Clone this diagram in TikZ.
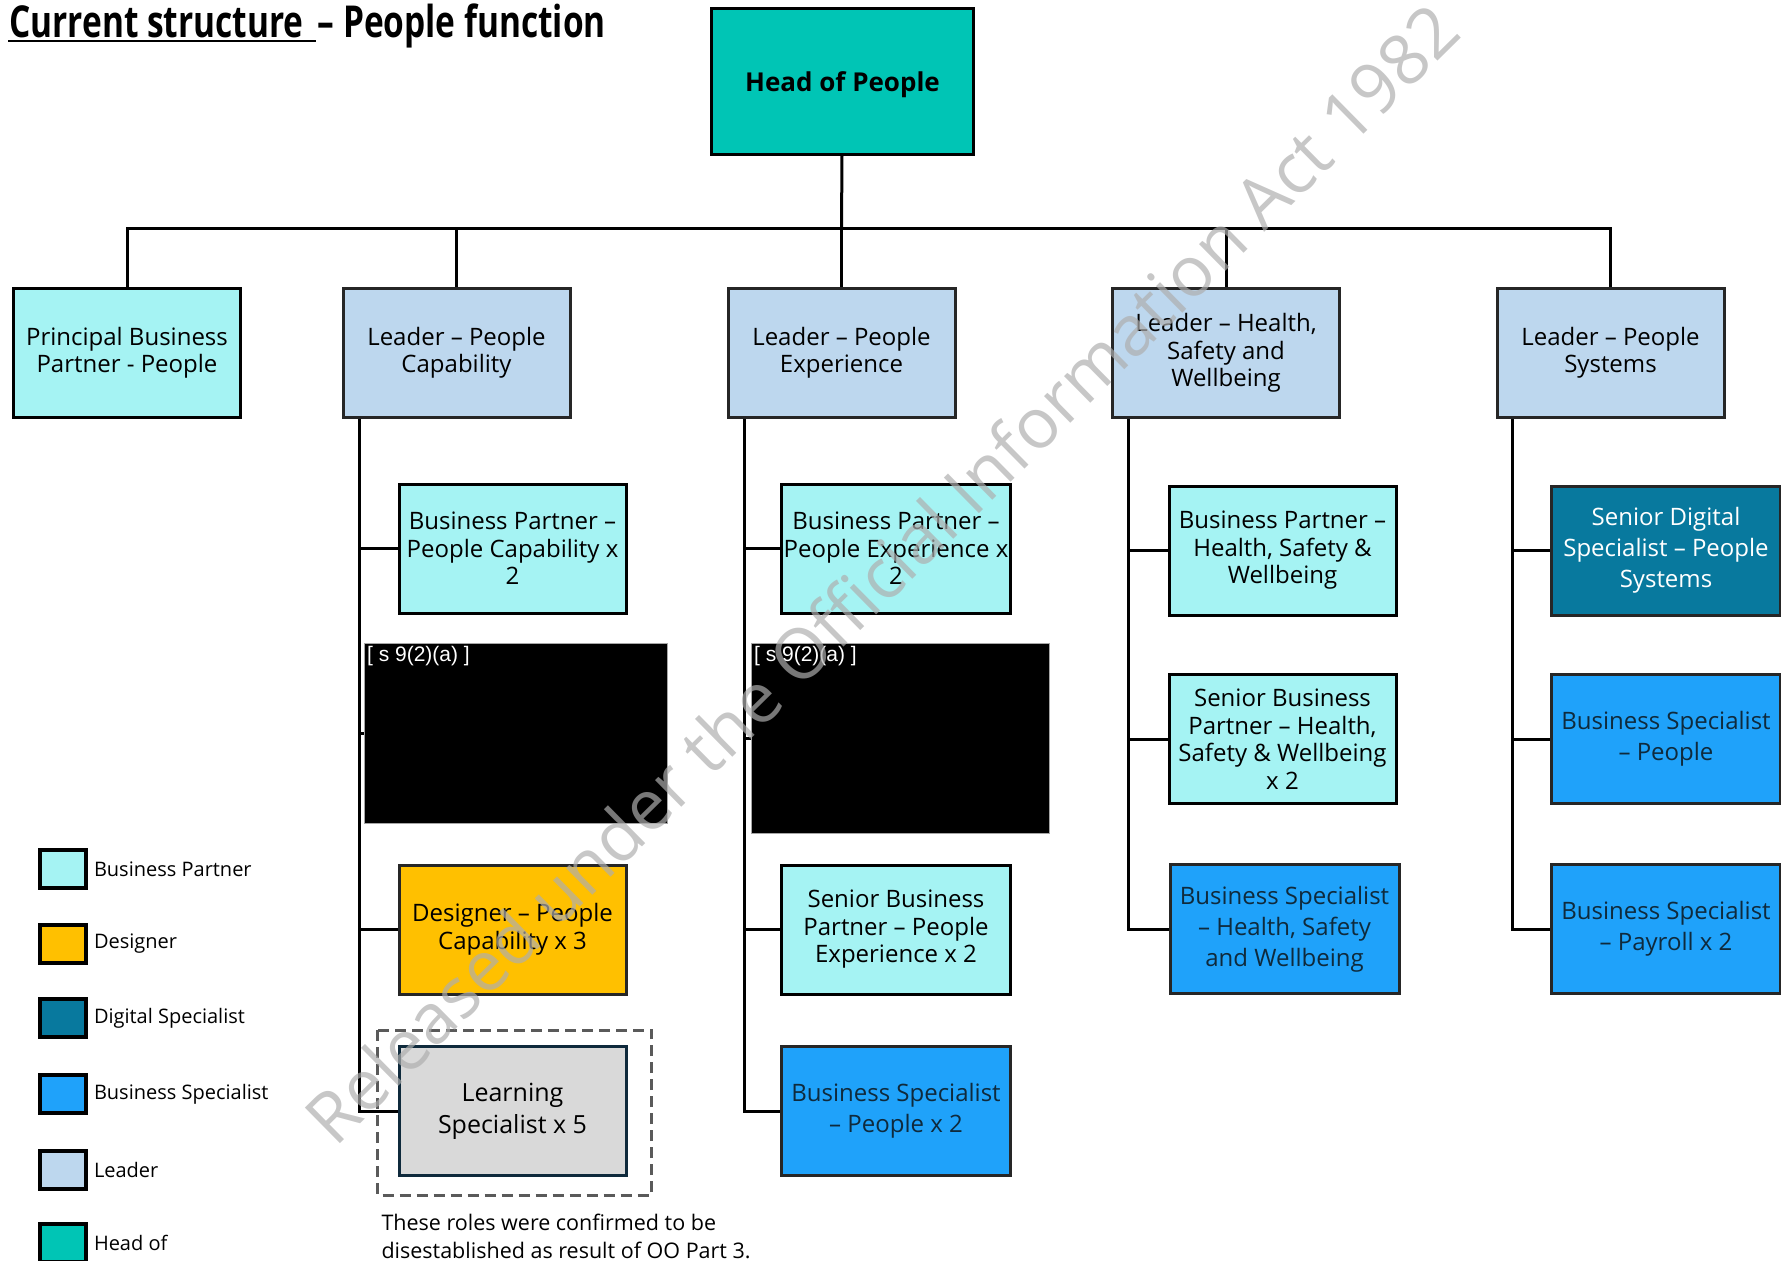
\documentclass[tikz,border=0pt]{standalone}
\usepackage{fontspec}
\setmainfont{Open Sans}
\newfontfamily\titlefont[FakeStretch=0.76]{Open Sans}
\newfontfamily\redactfont{Liberation Sans}
\usetikzlibrary{positioning}

\definecolor{headcol}{HTML}{00C5B5}
\definecolor{bpcol}{HTML}{A5F3F3}
\definecolor{descol}{HTML}{FFC000}
\definecolor{digcol}{HTML}{08799E}
\definecolor{bscol}{HTML}{1FA2FA}
\definecolor{leadcol}{HTML}{BDD7EE}
\definecolor{learncol}{HTML}{D9D9D9}
\definecolor{navy}{HTML}{0F2A3C}
\definecolor{dashcol}{HTML}{5A5A5A}
\definecolor{wmcol}{HTML}{AEAEAE}

\begin{document}
\begin{tikzpicture}[x=1pt, y=-1pt, line width=3pt,
    box/.style = {draw=black!85, rectangle, minimum width=227pt, minimum height=129pt, inner sep=0pt, align=center, font=\fontsize{24}{27.5}\selectfont},
    bp/.style = {box, draw=black, fill=bpcol},
    lead/.style = {box, fill=leadcol},
    design/.style = {box, fill=descol},
    digital/.style = {box, fill=digcol, text=white, font=\fontsize{24}{31}\selectfont},
    spec/.style = {box, fill=bscol, text=navy, font=\fontsize{24}{31}\selectfont},
    redact/.style = {rectangle, fill=black, draw=black!35, line width=0.8pt, inner sep=0pt},
    legbox/.style = {draw=black, line width=4pt, minimum width=46pt, minimum height=38pt, inner sep=0pt},
    legtxt/.style = {anchor=west, inner sep=0pt, font=\fontsize{20}{24}\selectfont}]
    \useasboundingbox (0,0) rectangle (1781,1261);

    % title
    \node[anchor=base west, inner sep=0pt, font=\titlefont\bfseries\fontsize{44}{50}\selectfont] (title1) at (8,37) {Current structure\hspace*{0.25em}};
    \node[anchor=base west, inner sep=0pt, font=\titlefont\bfseries\fontsize{44}{50}\selectfont] (title2) at (title1.base east) {– People function};
    \draw[line width=2.5pt] ([yshift=-4pt]title1.base west) -- ([yshift=-4pt]title1.base east);

    \node[box, draw=black, fill=headcol, minimum width=262pt, minimum height=146pt, text depth=0pt, font=\bfseries\fontsize{26}{30}\selectfont] (head) at (842.5,81.5) {Head of People};

    \node[bp] (pbp) at (127,353) {Principal Business\\Partner - People};
    \node[lead] (lcap) at (456.5,353) {Leader – People\\Capability};
    \node[lead] (lexp) at (841.5,353) {Leader – People\\Experience};
    \node[lead] (lhsw) at (1226,353) {Leader – Health,\\Safety and\\Wellbeing};
    \node[lead] (lsys) at (1610.5,353) {Leader – People\\Systems};

    \coordinate (bus) at (841.5,228);
    \draw (head) -- (bus);
    \foreach \n in {pbp,lcap,lexp,lhsw,lsys}
        \draw (bus) -| (\n.north);

    % people capability
    \node[bp] (bpcap) at (512.5,548.5) {Business Partner –\\People Capability x\\2};
    \node[redact, minimum width=303pt, minimum height=180pt] (red1) at (515.5,733.5) {};
    \node[anchor=north west, inner sep=2pt, text=white, font=\redactfont\fontsize{21}{24}\selectfont] (red1txt) at (red1.north west) {[ s 9(2)(a) ]};
    \node[design] (descap) at (512.5,929.5) {Designer – People\\Capability x 3};
    \node[box, fill=learncol, draw=navy, font=\fontsize{25}{32}\selectfont] (learn) at (512.5,1111) {Learning\\Specialist x 5};
    \coordinate (tcap) at ([xshift=17.5pt]lcap.south west);
    \foreach \c in {bpcap,red1,descap,learn}
        \draw (tcap) |- (\c.west);
    \draw[dashcol, dash pattern=on 11pt off 6pt] ([shift={(-20pt,15pt)}]learn.north west) rectangle ([shift={(24pt,-18pt)}]learn.south east);
    \node[anchor=north west, inner sep=0pt, align=left, font=\fontsize{21.5}{28}\selectfont] (note) at (380,1213) {These roles were confirmed to be\\disestablished as result of OO Part 3.};

    % people experience
    \node[bp, minimum width=229pt] (bpexp) at (896,548.5) {Business Partner –\\People Experience x\\2};
    \node[redact, minimum width=298pt, minimum height=190pt] (red2) at (900,738) {};
    \node[anchor=north west, inner sep=2pt, text=white, font=\redactfont\fontsize{21}{24}\selectfont] (red2txt) at (red2.north west) {[ s 9(2)(a) ]};
    \node[bp, minimum width=229pt] (sbpexp) at (896,929.5) {Senior Business\\Partner – People\\Experience x 2};
    \node[spec, minimum width=229pt] (bsexp) at (896,1111) {Business Specialist\\– People x 2};
    \coordinate (texp) at ([xshift=17.5pt]lexp.south west);
    \foreach \c in {bpexp,red2,sbpexp,bsexp}
        \draw (texp) |- (\c.west);

    % health safety wellbeing
    \node[bp] (bphsw) at (1282.5,550.5) {Business Partner –\\Health, Safety \&\\Wellbeing};
    \node[bp] (sbphsw) at (1282.5,739) {Senior Business\\Partner – Health,\\Safety \& Wellbeing\\x 2};
    \node[spec, minimum width=229pt] (bshsw) at (1284.5,929) {Business Specialist\\– Health, Safety\\and Wellbeing};
    \coordinate (thsw) at ([xshift=17.5pt]lhsw.south west);
    \foreach \c in {bphsw,sbphsw,bshsw}
        \draw (thsw) |- (\c.west);

    % people systems
    \node[digital, minimum width=229pt] (sdsys) at (1666,550.5) {Senior Digital\\Specialist – People\\Systems};
    \node[spec, minimum width=229pt] (bspeo) at (1666,739) {Business Specialist\\– People};
    \node[spec, minimum width=229pt] (bspay) at (1666,929) {Business Specialist\\– Payroll x 2};
    \coordinate (tsys) at ([xshift=16.5pt]lsys.south west);
    \foreach \c in {sdsys,bspeo,bspay}
        \draw (tsys) |- (\c.west);

    % legend
    \foreach \col/\txt/\yy [count=\i] in {bpcol/Business Partner/869, descol/Designer/944, digcol/Digital Specialist/1018, bscol/Business Specialist/1094, leadcol/Leader/1170, headcol/Head of/1243}
    {
        \node[legbox, fill=\col] (leg\i) at (62.5,\yy) {};
        \node[legtxt] (legtxt\i) at ([xshift=5pt]leg\i.east) {\txt};
    }

    \node[rotate=44.6, anchor=base, inner sep=0pt, text=wmcol, text opacity=0.69, font=\fontsize{70}{80}\selectfont] (wm) at (900,592) {Released under the Official Information Act 1982};
\end{tikzpicture}
\end{document}
